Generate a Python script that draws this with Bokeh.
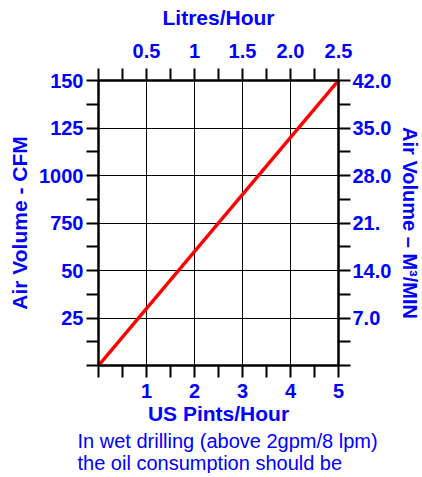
from bokeh.plotting import figure
from bokeh.models import (Range1d, LinearAxis, FixedTicker, Title)
from bokeh.embed import file_html
from bokeh.resources import INLINE

# ---- data ----
pints_per_hour = [0, 5]
air_cfm = [0, 150]

x_ticks = [0, 0.5, 1, 1.5, 2, 2.5, 3, 3.5, 4, 4.5, 5]
x_labels = {1: "1", 2: "2", 3: "3", 4: "4", 5: "5"}
top_ticks = [0, 0.25, 0.5, 0.75, 1, 1.25, 1.5, 1.75, 2.0, 2.25, 2.5]
top_labels = {0.5: "0.5", 1: "1", 1.5: "1.5", 2: "2.0", 2.5: "2.5"}
left_ticks = [0, 12.5, 25, 37.5, 50, 62.5, 75, 87.5, 100, 112.5, 125, 137.5, 150]
left_labels = {25: "25", 50: "50", 75: "750", 100: "1000", 125: "125", 150: "150"}
right_ticks = [0, 3.5, 7, 10.5, 14, 17.5, 21, 24.5, 28, 31.5, 35, 38.5, 42]
right_labels = {7: "7.0", 14: "14.0", 21: "21.", 28: "28.0", 35: "35.0", 42: "42.0"}
vgrid = [1, 2, 3, 4]
hgrid = [25, 50, 75, 100, 125]
note_lines = ["In wet drilling (above 2gpm/8 lpm)", "the oil consumption should be"]

BLUE = "#0000FF"
FONT = "Liberation Sans"

p = figure(frame_width=240, frame_height=285, output_backend="svg", toolbar_location=None,
           x_range=Range1d(0, 5), y_range=Range1d(0, 150),
           x_axis_location=None, y_axis_location=None,
           min_border_left=98, min_border_right=70, min_border_top=80,
           min_border_bottom=96)
p.outline_line_color = "black"
p.outline_line_width = 2
p.background_fill_color = "white"
p.border_fill_color = "white"

p.extra_x_ranges = {"litres": Range1d(0, 2.5)}
p.extra_y_ranges = {"m3": Range1d(0, 42)}


def style(ax, ticks, labels, title, standoff, tstandoff, tsize="21px"):
    ax.ticker = FixedTicker(ticks=ticks)
    ax.major_label_overrides = {t: labels.get(t, "") for t in ticks}
    ax.axis_label = title
    ax.axis_line_color = "black"
    ax.axis_line_width = 2
    ax.major_tick_line_color = "black"
    ax.major_tick_line_width = 2
    ax.major_tick_in = 0
    ax.major_tick_out = 12
    ax.minor_tick_line_color = None
    ax.major_label_text_font = FONT
    ax.major_label_text_font_style = "bold"
    ax.major_label_text_font_size = "20px"
    ax.major_label_text_color = BLUE
    ax.major_label_standoff = standoff
    ax.axis_label_text_font = FONT
    ax.axis_label_text_font_style = "bold"
    ax.axis_label_text_font_size = tsize
    ax.axis_label_text_color = BLUE
    ax.axis_label_standoff = tstandoff


bottom = LinearAxis()
style(bottom, x_ticks, x_labels, "US Pints/Hour", 6, 1)
p.add_layout(bottom, "below")

top = LinearAxis(x_range_name="litres")
style(top, top_ticks, top_labels, "Litres/Hour", 11, 12)
p.add_layout(top, "above")

left = LinearAxis()
style(left, left_ticks, left_labels, "Air Volume - CFM", 3, 5)
p.add_layout(left, "left")

right = LinearAxis(y_range_name="m3")
style(right, right_ticks, right_labels, "Air Volume \u2013 M\u00b3/MIN", 2, 5, "20px")
p.add_layout(right, "right")

p.xgrid.ticker = FixedTicker(ticks=vgrid)
p.ygrid.ticker = FixedTicker(ticks=hgrid)
for g in (p.xgrid, p.ygrid):
    g.grid_line_color = "black"
    g.grid_line_width = 1
    g.grid_line_alpha = 1.0

p.line(pints_per_hour, air_cfm, line_color="#FF0000", line_width=3.5)

note = Title(text="\n".join(note_lines), align="left", offset=-21, standoff=0,
             text_font=FONT, text_font_style="normal", text_font_size="20px",
             text_color=BLUE, text_line_height=1.0)
p.add_layout(note, "below")

open("out.html", "w").write(file_html(p, INLINE))
